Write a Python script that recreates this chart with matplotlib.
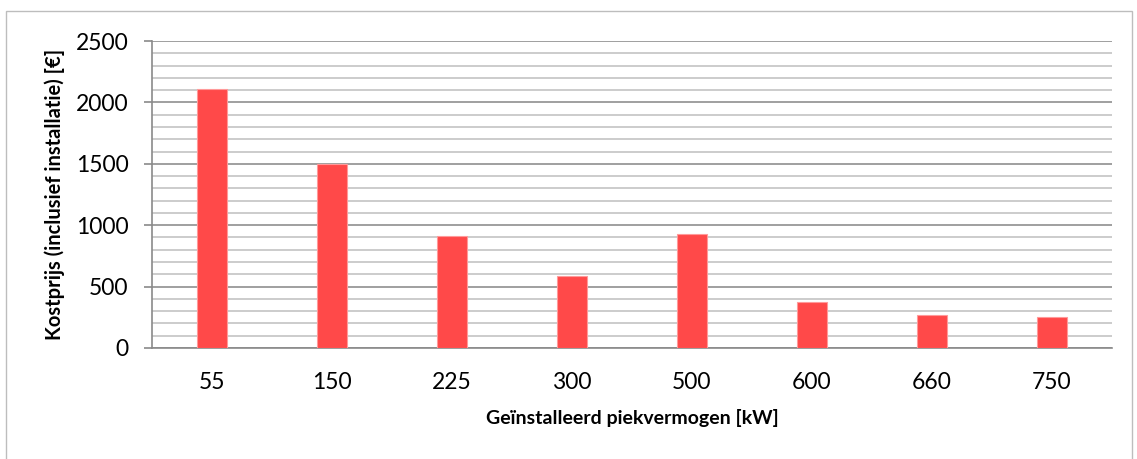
import numpy as np
import matplotlib.pyplot as plt
from matplotlib.patches import Rectangle

# piekvermogen categories and cost per kW
categories = ['55', '150', '225', '300', '500', '600', '660', '750']
kostprijs = [2110, 1500, 915, 588, 930, 372, 271, 253]

plt.rcParams['font.family'] = ['Lato', 'DejaVu Sans']

fig = plt.figure(figsize=(11.37, 4.59), dpi=100)
ax = fig.add_axes([152 / 1137, 1 - 348 / 459, 960 / 1137, 307 / 459])

x = np.arange(len(categories))
ax.bar(x, kostprijs, width=0.25, color='#FF4949', edgecolor='#FF9A9A', linewidth=0.8, zorder=3)

ax.set_xlim(-0.5, len(categories) - 0.5)
ax.set_ylim(0, 2500)
ax.set_yticks(np.arange(0, 2501, 500))
ax.set_yticks(np.arange(0, 2501, 100), minor=True)
ax.set_xticks(x)
ax.set_xticklabels(categories)

ax.grid(which='minor', axis='y', color='#c4c4c4', linewidth=1.2, zorder=0)
ax.grid(which='major', axis='y', color='#8f8f8f', linewidth=1.2, zorder=0)

for side in ['top', 'right']:
    ax.spines[side].set_visible(False)
ax.spines['left'].set_color('#8a8a8a')
ax.spines['bottom'].set_color('#8a8a8a')
ax.spines['left'].set_linewidth(1.2)
ax.spines['bottom'].set_linewidth(1.2)

ax.tick_params(axis='y', which='major', length=6, width=1.2, color='#8a8a8a', labelsize=16.5, pad=11)
ax.tick_params(axis='y', which='minor', length=0)
ax.tick_params(axis='x', length=0, labelsize=16.5, pad=17)

ax.set_xlabel('Geïnstalleerd piekvermogen [kW]', fontsize=14, fontweight='bold', labelpad=12)
ax.set_ylabel('Kostprijs (inclusief installatie) [€]', fontsize=14.5, fontweight='bold', labelpad=8)

# chart frame
fig.patches.append(Rectangle((6 / 1137, -0.1), 1126 / 1137, 1.1 - 11 / 459, transform=fig.transFigure,
                             fill=False, edgecolor='#bdbdbd', linewidth=1))

fig.savefig('out.png', dpi=100)
